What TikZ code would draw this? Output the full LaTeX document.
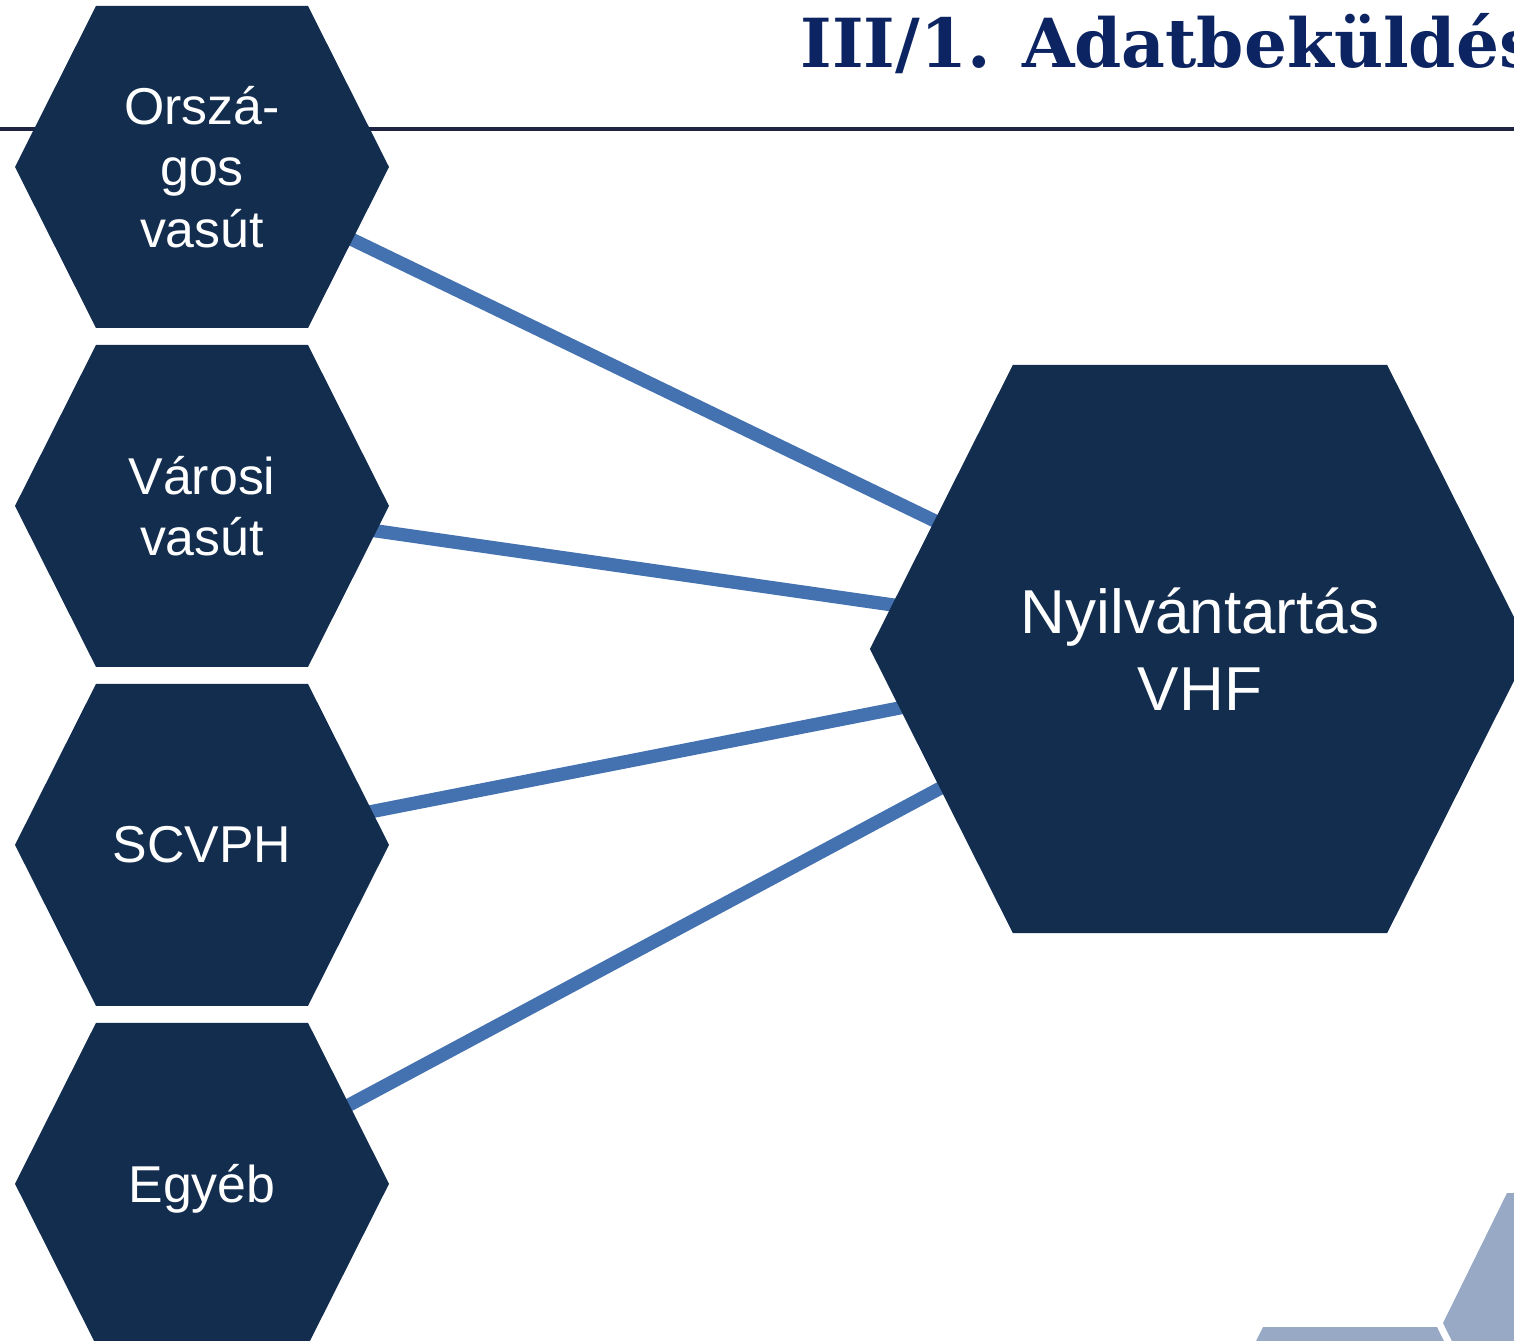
\documentclass[tikz,border=0pt]{standalone}
\usepackage{fontspec}
\usetikzlibrary{positioning}
\setmainfont{Liberation Sans}
\newfontfamily\titlefont{DejaVu Serif}
\definecolor{hexblue}{HTML}{132D4E}
\definecolor{linkblue}{HTML}{4472B0}
\definecolor{titleblue}{HTML}{0C2461}
\definecolor{rulenavy}{HTML}{1F2445}
\definecolor{paleblue}{HTML}{97A9C5}
\pgfdeclarelayer{links}
\pgfdeclarelayer{hexes}
\pgfsetlayers{links,hexes,main}

\begin{document}
\begin{tikzpicture}[x=0.02cm, y=-0.02cm,
    hexfill/.style = {fill=hexblue},
    hextext/.style = {text=white, align=center, inner sep=0pt, font=\fontsize{29.5}{35}\selectfont},
    bigtext/.style = {text=white, align=center, inner sep=0pt, font=\fontsize{35.3}{43.6}\selectfont},
    link/.style = {draw=linkblue, line width=7.6pt},
    node distance=6.78cm]
    \useasboundingbox (0,0) rectangle (1514,1341);
    \clip (0,0) rectangle (1514,1341);

    % sources on the left
    \node[hextext](orszagos) at (202,167) {Orszá-\\gos\\vasút};
    \node[hextext](varosi)[below of=orszagos]{Városi\\vasút};
    \node[hextext](scvph)[below of=varosi]{SCVPH};
    \node[hextext, text depth=0pt](egyeb)[below of=scvph]{Egyéb};
    % register
    \node[bigtext](nyt) at (1200,649) {Nyilvántartás\\VHF};

    \node[font=\titlefont\bfseries\fontsize{38.5}{40}\selectfont, text=titleblue,
          anchor=base west, inner sep=0pt](title) at (800,68) {III/1. Adatbeküldés};

    \begin{pgfonlayer}{links}
        \draw[rulenavy, line width=2.5pt] (0,129) -- (1514,129);
        \draw[link] (orszagos.center) -- (nyt.center);
        \draw[link] (varosi.center) -- (nyt.center);
        \draw[link] (scvph.center) -- (nyt.center);
        \draw[link] (egyeb.center) -- (nyt.center);
    \end{pgfonlayer}

    \begin{pgfonlayer}{hexes}
        \fill[hexfill, shift={(orszagos.center)}] (-187,0) -- (-106,-161) -- (106,-161) -- (187,0) -- (106,161) -- (-106,161) -- cycle;
        \fill[hexfill, shift={(varosi.center)}] (-187,0) -- (-106,-161) -- (106,-161) -- (187,0) -- (106,161) -- (-106,161) -- cycle;
        \fill[hexfill, shift={(scvph.center)}] (-187,0) -- (-106,-161) -- (106,-161) -- (187,0) -- (106,161) -- (-106,161) -- cycle;
        \fill[hexfill, shift={(egyeb.center)}] (-187,0) -- (-106,-161) -- (106,-161) -- (187,0) -- (106,161) -- (-106,161) -- cycle;
        \fill[hexfill, shift={(nyt.center)}, scale=1.765] (-187,0) -- (-106,-161) -- (106,-161) -- (187,0) -- (106,161) -- (-106,161) -- cycle;
        % pale corner pieces
        \fill[paleblue] (1263,1327) -- (1437,1327) -- (1500,1455) -- (1200,1455) -- cycle;
        \fill[paleblue] (1507,1193) -- (1700,1193) -- (1700,1453) -- (1507,1453) -- (1443,1323) -- cycle;
    \end{pgfonlayer}
\end{tikzpicture}
\end{document}
